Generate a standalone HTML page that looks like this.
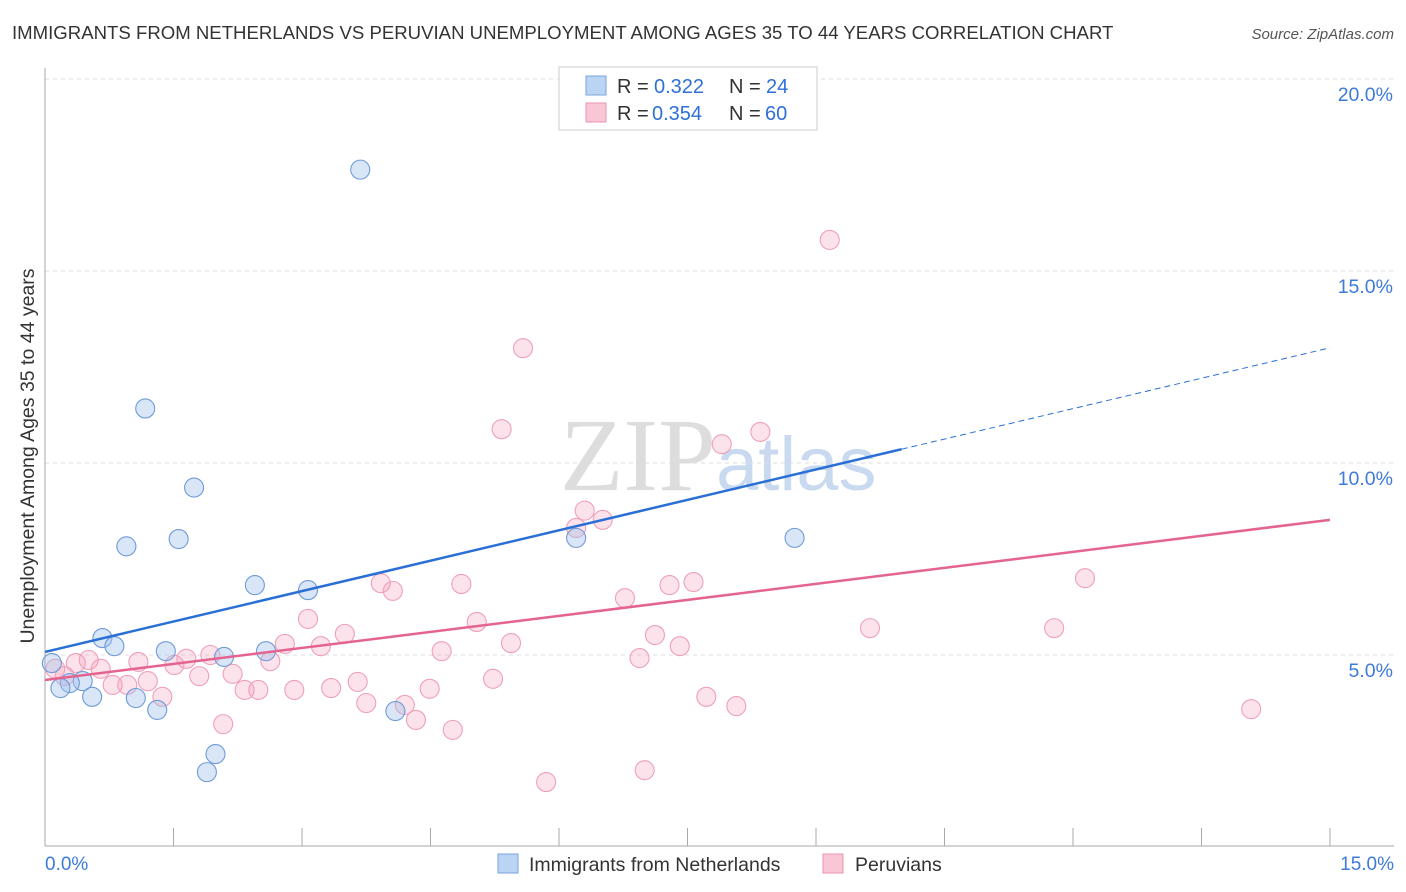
<!DOCTYPE html>
<html><head><meta charset="utf-8"><style>
body{margin:0;background:#fff;font-family:"Liberation Sans",sans-serif;}
#wrap{position:relative;width:1406px;height:892px;overflow:hidden;}
</style></head><body><div id="wrap">
<svg id="svg" width="1406" height="892" xmlns="http://www.w3.org/2000/svg" font-family="Liberation Sans, sans-serif">
<text x="12" y="39" font-size="18.6" fill="#333">IMMIGRANTS FROM NETHERLANDS VS PERUVIAN UNEMPLOYMENT AMONG AGES 35 TO 44 YEARS CORRELATION CHART</text>
<text x="1394" y="39" font-size="15" fill="#555" font-style="italic" text-anchor="end">Source: ZipAtlas.com</text>
<text x="34" y="456" font-size="19.5" fill="#333" text-anchor="middle" transform="rotate(-90 34 456)">Unemployment Among Ages 35 to 44 years</text>
<text x="716" y="490" font-size="104" fill="#ddd" text-anchor="end" font-family="Liberation Serif, serif">ZIP</text>
<text x="716" y="490" font-size="76" fill="#c9daf0">atlas</text>
<g id="grid"></g><g id="pts"></g><g id="lines"></g>
<g>
<rect x="559" y="67" width="258" height="63" fill="#fff" stroke="#ccc"/>
<rect x="586" y="76" width="20" height="19" fill="#bcd4f4" stroke="#7aa3de"/>
<text x="617" y="93" font-size="20" fill="#333">R =</text>
<text x="654" y="93" font-size="20" fill="#2f6fd6">0.322</text>
<text x="729" y="93" font-size="20" fill="#333">N =</text>
<text x="766" y="93" font-size="20" fill="#2f6fd6">24</text>
<rect x="586" y="103" width="20" height="19" fill="#f9c6d6" stroke="#ea93b0"/>
<text x="617" y="120" font-size="20" fill="#333">R =</text>
<text x="652" y="120" font-size="20" fill="#2f6fd6">0.354</text>
<text x="729" y="120" font-size="20" fill="#333">N =</text>
<text x="765" y="120" font-size="20" fill="#2f6fd6">60</text>
</g>
<g>
<rect x="498" y="854" width="20" height="19" fill="#bcd4f4" stroke="#7aa3de"/>
<text x="529" y="871" font-size="19.5" fill="#333">Immigrants from Netherlands</text>
<rect x="823" y="854" width="20" height="19" fill="#f9c6d6" stroke="#ea93b0"/>
<text x="855" y="871" font-size="19.5" fill="#333">Peruvians</text>
</g>
</svg></div>
<script>
const blueX=[3.68,1.17,1.74,0.95,1.56,2.45,3.07,0.67,0.81,1.41,2.09,2.58,0.44,0.29,0.18,0.55,1.06,1.31,1.99,1.89,4.09,6.2,8.75,0.08];
const blueY=[17.64,11.42,9.36,7.83,8.02,6.82,6.69,5.44,5.23,5.1,4.95,5.1,4.32,4.27,4.14,3.91,3.88,3.57,2.42,1.95,3.54,8.05,8.05,4.79];
const pinkX=[9.16,5.58,5.33,7.9,8.35,6.3,6.51,6.2,12.14,4.86,3.92,4.06,7.29,7.57,6.77,3.07,5.04,3.5,9.63,11.78,7.12,2.8,3.22,5.44,7.41,4.63,6.94,1.93,1.65,1.09,0.65,0.36,0.51,2.63,1.51,2.19,1.80,1.20,0.96,0.79,2.33,2.49,2.91,3.34,3.65,4.49,5.23,1.37,3.75,4.20,7.72,8.07,14.08,2.08,4.33,4.76,5.85,7.00,0.12,0.23];
const pinkY=[15.81,12.99,10.88,10.49,10.81,8.76,8.52,8.31,7.0,6.85,6.87,6.67,6.82,6.9,6.48,5.94,5.86,5.55,5.7,5.7,5.52,5.29,5.23,5.31,5.23,5.10,4.92,5.0,4.90,4.82,4.64,4.79,4.87,4.84,4.74,4.51,4.45,4.32,4.22,4.22,4.09,4.09,4.09,4.14,4.30,4.12,4.38,3.91,3.75,3.70,3.91,3.67,3.59,3.20,3.31,3.05,1.69,2.0,4.64,4.45];
const xTicks=[0,1.5,3,4.5,6,7.5,9,10.5,12,13.5,15];
const yTicks=[5,10,15,20];
const yLabels=["5.0%","10.0%","15.0%","20.0%"];
const blueTrend=[5.08,13.0], pinkTrend=[4.35,8.52];
const NS="http://www.w3.org/2000/svg";
const X=v=>45+v/15*1285, Y=v=>847-v*38.4;
function mk(p,t,a){const e=document.createElementNS(NS,t);for(const k in a)e.setAttribute(k,a[k]);p.appendChild(e);return e;}
const g=document.getElementById('grid');
yTicks.forEach((t,i)=>{
 const l=mk(g,'line',{x1:45,x2:1394,y1:Y(t),y2:Y(t),stroke:'#ddd','stroke-dasharray':'4,4'});
 
 
 const tx=mk(g,'text',{x:1393,y:Y(t)+22,'font-size':19.5,fill:'#3d7bd9','text-anchor':'end'});
 tx.textContent=yLabels[i];
 
 
});
mk(g,'line',{x1:45,x2:45,y1:68,y2:846,stroke:'#aaa'});
mk(g,'line',{x1:45,x2:1394,y1:846,y2:846,stroke:'#aaa'});
xTicks.forEach(t=>{const l=mk(g,'line',{x1:X(t),x2:X(t),y1:828,y2:846,stroke:'#aaa'});
 
 });
let t0=mk(g,'text',{x:45,y:870,'font-size':19,fill:'#3d7bd9'});t0.textContent='0.0%';


let t1=mk(g,'text',{x:1394,y:870,'font-size':19,fill:'#3d7bd9','text-anchor':'end'});t1.textContent='15.0%';


const P=document.getElementById('pts');
pinkX.forEach((x,i)=>{const c=mk(P,'circle',{cx:X(x),cy:Y(pinkY[i]),r:9.5,fill:'rgba(244,160,186,0.3)',stroke:'#eea0b8','stroke-width':1.1});
 
 });
blueX.forEach((x,i)=>{const c=mk(P,'circle',{cx:X(x),cy:Y(blueY[i]),r:9.5,fill:'rgba(160,192,236,0.4)',stroke:'#6f9ad8','stroke-width':1.1});
 
 });
const L=document.getElementById('lines');
const bx=10.0, by=blueTrend[0]+(blueTrend[1]-blueTrend[0])*bx/15;
let b1=mk(L,'line',{x1:X(0),y1:Y(blueTrend[0]),x2:X(bx),y2:Y(by),stroke:'#2a6fd6','stroke-width':2.5});


let b2=mk(L,'line',{x1:X(bx),y1:Y(by),x2:X(15),y2:Y(blueTrend[1]),stroke:'#2a6fd6','stroke-width':1,'stroke-dasharray':'6,4'});


let p1=mk(L,'line',{x1:X(0),y1:Y(pinkTrend[0]),x2:X(15),y2:Y(pinkTrend[1]),stroke:'#e4638f','stroke-width':2.5});


</script></body></html>
